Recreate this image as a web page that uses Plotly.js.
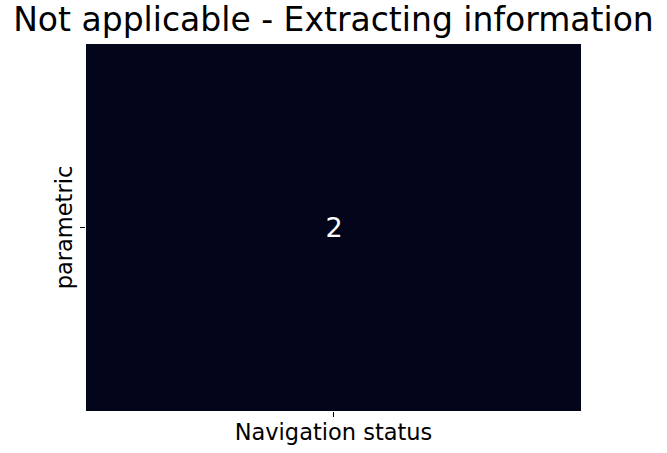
<!DOCTYPE html>
<html>
<head>
<meta charset="utf-8">
<script src="https://cdn.plot.ly/plotly-3.0.1.min.js"></script>
<style>html,body{margin:0;padding:0;background:#fff;}#chart{width:667px;height:453px;}</style>
</head>
<body>
<div id="chart"></div>
<script>
const xCategories = ["Navigation status"];
const yCategories = ["parametric"];
const zValues = [[2]];

const trace = {
  type: "heatmap",
  x: xCategories,
  y: yCategories,
  z: zValues,
  colorscale: [[0, "#03051A"], [1, "#03051A"]],
  showscale: false,
  texttemplate: "%{z}",
  textfont: {family: "DejaVu Sans", size: 27, color: "#ffffff"},
  xgap: 0, ygap: 0,
  hoverinfo: "skip"
};

const layout = {
  width: 667, height: 453,
  margin: {l: 86, r: 86, t: 44, b: 42, pad: 0},
  paper_bgcolor: "#ffffff",
  plot_bgcolor: "#ffffff",
  font: {family: "DejaVu Sans", color: "#000000"},
  title: {
    text: "Not applicable - Extracting information",
    font: {family: "DejaVu Sans", size: 33, color: "#000000"},
    x: 0.5, xanchor: "center", y: 1, yanchor: "top", pad: {t: 8}
  },
  xaxis: {
    title: {text: "Navigation status", font: {size: 22.5, family: "DejaVu Sans"}, standoff: 8},
    showticklabels: false,
    ticks: "outside", ticklen: 5, tickwidth: 1, tickcolor: "#000",
    showgrid: false, zeroline: false, showline: false,
    automargin: false
  },
  yaxis: {
    title: {text: "parametric", font: {size: 22.5, family: "DejaVu Sans"}, standoff: 1},
    showticklabels: false,
    ticks: "outside", ticklen: 5, tickwidth: 1, tickcolor: "#000",
    showgrid: false, zeroline: false, showline: false,
    automargin: false
  }
};

Plotly.newPlot("chart", [trace], layout, {displayModeBar: false, staticPlot: true});
</script>
</body>
</html>
